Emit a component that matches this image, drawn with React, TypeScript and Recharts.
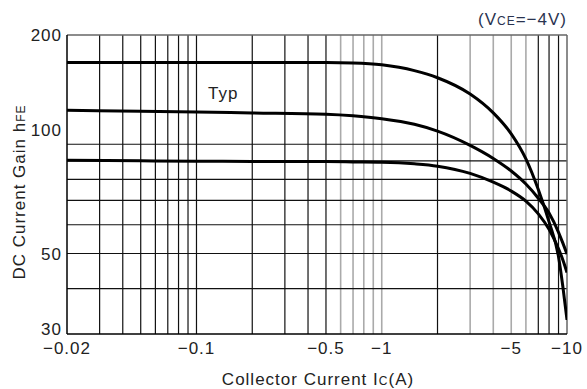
import React from 'react';
import { LineChart, Line, XAxis, YAxis, ReferenceLine } from 'recharts';

// Collector current magnitude (A); axis labels show them negative
const current = [0.02, 0.05, 0.1, 0.2, 0.5, 0.7, 1, 1.5, 2, 3, 4, 5, 6, 7, 8, 9, 9.5, 10];
const hfeHigh = [168, 168, 168, 168, 168, 167.5, 165.5, 159.5, 152.5, 137.5, 122, 106.8, 91.1, 75, 61.1, 49, 40.5, 32.8];
const hfeTyp = [124, 123.3, 122.7, 122, 121, 119.8, 117.6, 113.5, 108.7, 99.3, 91.4, 84.4, 77.7, 71, 64.6, 57.2, 53.4, 49.8];
const hfeLow = [90.3, 90, 89.8, 89.7, 89.6, 89.4, 89.2, 88.3, 87, 83.1, 78.6, 74.3, 69.7, 64.3, 58.3, 51.5, 48, 44.3];

const xTicks = [0.02, 0.1, 0.5, 1, 5, 10];
const yTicks = [30, 50, 100, 200];
const xGrid = [0.03, 0.04, 0.05, 0.06, 0.07, 0.08, 0.09, 0.1, 0.2, 0.3, 0.4, 0.5, 0.6, 0.7, 0.8, 0.9, 1, 2, 3, 4, 5, 6, 7, 8, 9];
const xGridLight = [0.6, 0.7, 0.8, 0.9, 1, 3, 4, 5, 6];
const yGrid = [40, 50, 60, 70, 80, 90, 100];

const data = current.map((ic, i) => ({ ic, high: hfeHigh[i], typ: hfeTyp[i], low: hfeLow[i] }));

const FONT = '"Liberation Sans", Arial, sans-serif';
const TXT = '#222';

const XTick = (props: any) => {
  const { x, y, payload } = props;
  return (
    <text x={x} y={y + 1} dy="0.71em" textAnchor="middle" fontFamily={FONT} fontSize={17} letterSpacing={1} fill={TXT}>
      {'\u2212' + payload.value}
    </text>
  );
};

const YTick = (props: any) => {
  const { x, y, payload } = props;
  const off = payload.value === 100 ? -14 : payload.value === 30 ? -5 : 0;
  return (
    <text x={x} y={y + off} dy="0.36em" textAnchor="end" fontFamily={FONT} fontSize={17} letterSpacing={1} fill={TXT}>
      {payload.value}
    </text>
  );
};

export default function App() {
  return (
    <div style={{ position: 'absolute', left: 0, top: 0, width: 587, height: 389, background: '#fff' }}>
      <LineChart width={587} height={389} data={data} margin={{ top: 35, right: 20, left: 0, bottom: 0 }}>
        <XAxis
          dataKey="ic"
          type="number"
          scale="log"
          domain={[0.02, 10]}
          ticks={xTicks}
          allowDataOverflow
          height={55}
          tickSize={0}
          tickMargin={7}
          tick={<XTick />}
          axisLine={{ stroke: '#000', strokeWidth: 1.5 }}
        />
        <YAxis
          type="number"
          scale="log"
          domain={[30, 200]}
          ticks={yTicks}
          allowDataOverflow
          width={67}
          tickSize={0}
          tickMargin={5}
          tick={<YTick />}
          axisLine={{ stroke: '#000', strokeWidth: 1.5 }}
        />
        {xGrid.map((v) => (
          <ReferenceLine
            key={'x' + v}
            x={v}
            stroke={xGridLight.includes(v) ? '#aaa' : '#111'}
            strokeWidth={xGridLight.includes(v) ? 1.6 : 1.2}
          />
        ))}
        {yGrid.map((v) => (
          <ReferenceLine key={'y' + v} y={v} stroke="#111" strokeWidth={1.2} />
        ))}
        <ReferenceLine y={200} stroke="#666" strokeWidth={1.5} />
        <ReferenceLine x={10} stroke="#666" strokeWidth={1.5} />
        <Line dataKey="high" type="monotone" stroke="#000" strokeWidth={3} dot={false} isAnimationActive={false} />
        <Line dataKey="typ" type="monotone" stroke="#000" strokeWidth={3} dot={false} isAnimationActive={false} />
        <Line dataKey="low" type="monotone" stroke="#000" strokeWidth={3} dot={false} isAnimationActive={false} />
      </LineChart>
      <svg width={587} height={389} style={{ position: 'absolute', left: 0, top: 0, pointerEvents: 'none' }}>
        <text x={567} y={25} textAnchor="end" fontFamily={FONT} fontSize={17} letterSpacing={1} fill="#2a3350">
          (V<tspan fontSize={12}>CE</tspan>=−4V)
        </text>
        <text x={208} y={99} fontFamily={FONT} fontSize={17} letterSpacing={1} fill={TXT}>Typ</text>
        <text x={318} y={385} textAnchor="middle" fontFamily={FONT} fontSize={17} letterSpacing={1} fill={TXT}>
          Collector Current I<tspan fontSize={12}>C</tspan>(A)
        </text>
        <text
          x={0}
          y={0}
          transform="translate(25,192) rotate(-90)"
          textAnchor="middle"
          fontFamily={FONT}
          fontSize={17}
          letterSpacing={1}
          fill={TXT}
        >
          DC Current Gain h<tspan fontSize={12}>FE</tspan>
        </text>
      </svg>
    </div>
  );
}
